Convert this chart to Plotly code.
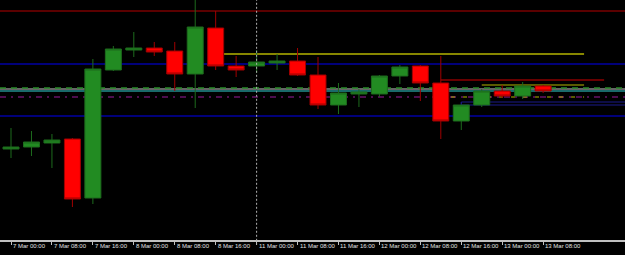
import plotly.graph_objects as go

# ---- data (4H candles) ----
times = ["7 Mar 00:00", "7 Mar 04:00", "7 Mar 08:00", "7 Mar 12:00", "7 Mar 16:00", "7 Mar 20:00",
         "8 Mar 00:00", "8 Mar 04:00", "8 Mar 08:00", "8 Mar 12:00", "8 Mar 16:00", "8 Mar 20:00",
         "11 Mar 00:00", "11 Mar 04:00", "11 Mar 08:00", "11 Mar 12:00", "11 Mar 16:00", "11 Mar 20:00",
         "12 Mar 00:00", "12 Mar 04:00", "12 Mar 08:00", "12 Mar 12:00", "12 Mar 16:00", "12 Mar 20:00",
         "13 Mar 00:00", "13 Mar 04:00", "13 Mar 08:00"]
opens  = [1.0801, 1.0803, 1.0807, 1.0811, 1.0752, 1.0880, 1.0900, 1.0902, 1.0899, 1.0876, 1.0922, 1.0884,
          1.0884, 1.0887, 1.0889, 1.0875, 1.0845, 1.0856, 1.0856, 1.0874, 1.0884, 1.0867, 1.0829, 1.0845,
          1.0859, 1.0854, 1.0864]
highs  = [1.0822, 1.0819, 1.0816, 1.0812, 1.0891, 1.0904, 1.0918, 1.0908, 1.0908, 1.0955, 1.0939, 1.0894,
          1.0900, 1.0896, 1.0902, 1.0893, 1.0867, 1.0861, 1.0875, 1.0885, 1.0885, 1.0894, 1.0845, 1.0861,
          1.0865, 1.0868, 1.0865]
lows   = [1.0792, 1.0794, 1.0782, 1.0743, 1.0746, 1.0879, 1.0893, 1.0894, 1.0859, 1.0842, 1.0880, 1.0873,
          1.0877, 1.0880, 1.0874, 1.0841, 1.0836, 1.0843, 1.0853, 1.0866, 1.0849, 1.0811, 1.0820, 1.0843,
          1.0852, 1.0851, 1.0857]
closes = [1.0803, 1.0808, 1.0810, 1.0751, 1.0881, 1.0901, 1.0902, 1.0898, 1.0876, 1.0923, 1.0884, 1.0880,
          1.0888, 1.0889, 1.0875, 1.0845, 1.0857, 1.0858, 1.0874, 1.0883, 1.0867, 1.0829, 1.0845, 1.0859,
          1.0854, 1.0864, 1.0859]

# axis labels (index of candle where each label sits)
tick_index = [-2, 0, 2, 4, 6, 8, 10, 12, 14, 16, 18, 20, 22, 24, 26]
tick_labels = ["6 Mar 16:00", "7 Mar 00:00", "7 Mar 08:00", "7 Mar 16:00", "8 Mar 00:00", "8 Mar 08:00",
               "8 Mar 16:00", "11 Mar 00:00", "11 Mar 08:00", "11 Mar 16:00", "12 Mar 00:00",
               "12 Mar 08:00", "12 Mar 16:00", "13 Mar 00:00", "13 Mar 08:00"]

# full-width horizontal levels
full_levels = [1.0939, 1.0886, 1.0834]
# partial levels: (price, start index, end index)
yellow_level = 1.0896
yellow_start, yellow_end = 10.4, 28.0
red_level = 1.0870
red_start, red_end = 21.0, 28.98
yellow2_level = 1.0865
yellow2_start, yellow2_end = 23.0, 28.0
box_low, box_high = 1.0845, 1.0848
box_start = 22.0
ma_green = 1.0862
ma_grey = 1.0861
ma_teal = 1.0859
pivot_magenta = 1.0853
separator_index = 12

x = list(range(len(times)))

fig = go.Figure()
fig.add_trace(go.Candlestick(
    x=x, open=opens, high=highs, low=lows, close=closes,
    increasing=dict(line=dict(color="#1d6b1d", width=1), fillcolor="#228B22"),
    decreasing=dict(line=dict(color="#a00000", width=1), fillcolor="#FF0000"),
    whiskerwidth=0, showlegend=False, hoverinfo="skip", text=times,
))

shapes = []
def hline(y, x0, x1, color, width=1, dash="solid", xref="x", layer="below"):
    shapes.append(dict(type="line", xref=xref, yref="y", x0=x0, x1=x1, y0=y, y1=y,
                       line=dict(color=color, width=width, dash=dash), layer=layer))

hline(full_levels[0], 0, 1, "#7a0000", 1.5, xref="paper")
hline(full_levels[1], 0, 1, "#00007a", 2, xref="paper")
hline(full_levels[2], 0, 1, "#00007a", 2, xref="paper")
hline(yellow_level, yellow_start, yellow_end, "#b4b400", 1.5)
hline(red_level, red_start, red_end, "#8b0000", 1.5)
hline(yellow2_level, yellow2_start, yellow2_end, "#b4b400", 1.2)
hline(ma_teal, 0, 1, "#1a6a6a", 2, xref="paper")
hline(ma_grey, 0, 1, "#c8c8c8", 1, xref="paper")
hline(ma_green, 0, 1, "#2a8a2a", 1.5, dash="6px,5px", xref="paper")
hline(pivot_magenta, 0, 1, "#9a1a9a", 1, dash="6px,5px,2px,5px", xref="paper")
hline(pivot_magenta, 21.5, 28.0, "#b4b400", 1, dash="4px,8px")
hline(box_high, box_start, 40, "#1a1a8a", 1.2)
hline(box_low, box_start, 40, "#1a1a8a", 1.2)
shapes.append(dict(type="line", xref="x", yref="y", x0=box_start, x1=box_start, y0=box_low, y1=box_high,
                   line=dict(color="#1a1a8a", width=1.2), layer="below"))
# period separator
shapes.append(dict(type="line", xref="x", yref="paper", x0=separator_index, x1=separator_index, y0=-0.02, y1=1,
                   line=dict(color="#b0b0b0", width=1, dash="2px,2px"), layer="above"))

annotations = []
for ti, lab in zip(tick_index, tick_labels):
    annotations.append(dict(x=ti, y=0, xref="x", yref="paper", text=lab, showarrow=False,
                            xanchor="left", yanchor="top", xshift=0, yshift=-1,
                            font=dict(family="Liberation Sans, Arial", size=6, color="#e0e0e0")))

fig.update_layout(
    width=625, height=255,
    margin=dict(l=0, r=0, t=0, b=15),
    paper_bgcolor="#000000", plot_bgcolor="#000000",
    boxgap=0.22, boxgroupgap=0,
    shapes=shapes, annotations=annotations,
    showlegend=False,
    xaxis=dict(range=[-0.538, 30.0], rangeslider=dict(visible=False), showgrid=False, zeroline=False,
               tickvals=tick_index, ticktext=[""] * len(tick_index), ticks="outside", ticklen=3,
               tickcolor="#c0c0c0", showline=True, linecolor="#c0c0c0", linewidth=1.5),
    yaxis=dict(range=[1.0710, 1.0950], showgrid=False, zeroline=False, showticklabels=False, fixedrange=True),
)

fig.write_html("out.html")
